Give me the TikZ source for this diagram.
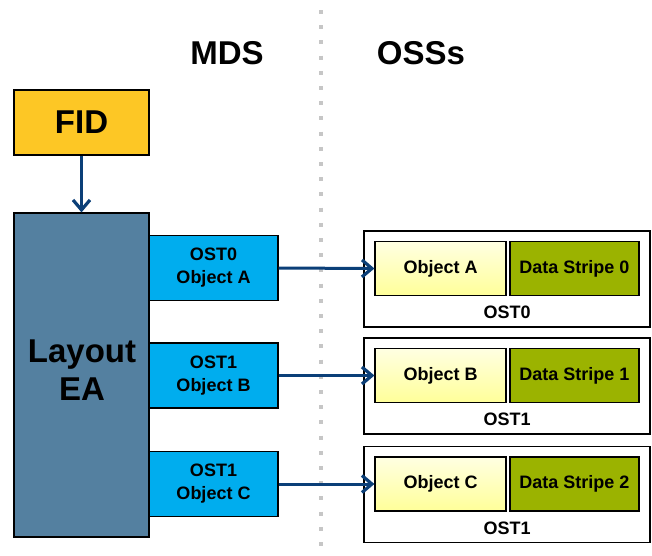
\documentclass[tikz,border=0pt]{standalone}
\usepackage{fontspec}
\setmainfont{Liberation Sans}
\usetikzlibrary{arrows.meta,positioning}
\definecolor{fidc}{HTML}{FDC725}
\definecolor{layc}{HTML}{5480A0}
\definecolor{cyanc}{HTML}{00ADEE}
\definecolor{stripec}{HTML}{9BB300}
\definecolor{arrc}{HTML}{0B3F78}
\definecolor{objtop}{HTML}{FFFFE2}
\definecolor{objbot}{HTML}{FFFF99}
\tikzset{
  big/.style={font=\fontsize{33}{39}\selectfont\bfseries},
  small/.style={font=\fontsize{18}{23}\selectfont\bfseries},
  boxx/.style={draw=black, line width=1.2pt, inner sep=0pt, align=center},
  cyanbox/.style={boxx, small, fill=cyanc, minimum width=129pt, minimum height=65pt},
  objbox/.style={boxx, small, top color=objtop, bottom color=objbot, minimum width=131pt, minimum height=54pt},
  stripebox/.style={boxx, small, fill=stripec, minimum width=129pt, minimum height=54pt},
  ostbox/.style={draw=black, line width=1.2pt, fill=white, minimum width=286pt, minimum height=96pt, inner sep=0pt},
  conn/.style={draw=arrc, line width=3pt, -{Straight Barb[length=10pt,width=17pt,line width=3.2pt]}},
}
\begin{document}
\begin{tikzpicture}[x=1pt,y=-1pt]
\useasboundingbox (0,0) rectangle (652,555);
\fill[white] (0,0) rectangle (652,555);
% divider
\coordinate (dtop) at (321,10);
\coordinate (dbot) at (321,550);
\draw[gray!45, line width=4pt, dash pattern=on 4pt off 11.2pt] (dtop) -- (dbot);
% headers
\node[big] (mds) at (227,53) {MDS};
\node[big] (oss) at (421,53) {OSSs};
% FID & layout
\node[boxx, big, fill=fidc, minimum width=135pt, minimum height=65pt] (fid) at (81.5,122.5) {FID};
\node[boxx, big, fill=layc, minimum width=135pt, minimum height=324pt] (lay) at (81.5,375) {};
\node[align=center, font=\fontsize{33}{38}\selectfont\bfseries] (laytxt) at (82,370) {Layout\\EA};
\draw[conn] (fid.south) -- (lay.north);
% cyan boxes
\node[cyanbox] (ca) at (213.5,268) {OST0\\Object A};
\node[cyanbox] (cb) at (213.5,375.5) {OST1\\Object B};
\node[cyanbox] (cc) at (213.5,484) {OST1\\Object C};
% OST boxes
\foreach \n/\y/\o/\s/\l in {a/279/A/0/OST0, b/386/B/1/OST1, c/494.5/C/2/OST1}{
  \node[ostbox] (ost\n) at (507,\y) {};
  \node[objbox] (obj\n) at (440.5,\y-10.5) {Object \o};
  \node[stripebox] (str\n) at (574.5,\y-10.5) {Data Stripe \s};
  \node[small] (lbl\n) at (507,\y+33.5) {\l};
}
\draw[conn] (ca.east) -- (obja.west);
\draw[conn] (cb.east) -- (objb.west);
\draw[conn] (cc.east) -- (objc.west);
\end{tikzpicture}
\end{document}
